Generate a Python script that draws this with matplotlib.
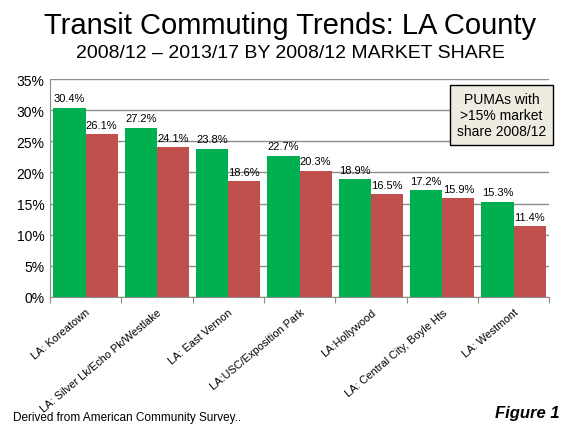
import matplotlib
matplotlib.use("Agg")
import matplotlib.pyplot as plt
import numpy as np
from matplotlib.ticker import MultipleLocator, FuncFormatter

plt.rcParams['font.family'] = ['Liberation Sans', 'DejaVu Sans']

categories = ["LA: Koreatown", "LA: Silver Lk/Echo Pk/Westlake", "LA: East Vernon",
              "LA:USC/Exposition Park", "LA:Hollywood", "LA: Central City, Boyle Hts",
              "LA: Westmont"]
share_2008_12 = [30.4, 27.2, 23.8, 22.7, 18.9, 17.2, 15.3]
share_2013_17 = [26.1, 24.1, 18.6, 20.3, 16.5, 15.9, 11.4]

green = "#00B050"
red = "#C0504D"

fig = plt.figure(figsize=(5.8, 4.35), dpi=100)
ax = fig.add_axes([0.086, 0.315, 0.861, 0.501])

x = np.arange(len(categories))
w = 0.45
ax.bar(x - w/2, share_2008_12, width=w, color=green, zorder=3)
ax.bar(x + w/2, share_2013_17, width=w, color=red, zorder=3)

for xi, v in zip(x - w/2, share_2008_12):
    ax.text(xi, v + 0.7, f"{v:.1f}%", ha="center", va="bottom", fontsize=8, zorder=4)
for xi, v in zip(x + w/2, share_2013_17):
    ax.text(xi, v + 0.7, f"{v:.1f}%", ha="center", va="bottom", fontsize=8, zorder=4)

ax.set_xlim(-0.5, len(categories) - 0.5)
ax.set_ylim(0, 35)
ax.yaxis.set_major_locator(MultipleLocator(5))
ax.yaxis.set_major_formatter(FuncFormatter(lambda v, p: f"{v:.0f}%"))
ax.grid(axis="y", color="#8c8c8c", linewidth=1, zorder=0)
ax.tick_params(axis="y", length=0, labelsize=10, pad=4)

ax.set_xticks(np.arange(len(categories) + 1) - 0.5, minor=False)
ax.set_xticklabels([])
ax.tick_params(axis="x", which="major", length=4, color="#8c8c8c", direction="out")
ax.set_xticks(x, minor=True)
ax.set_xticklabels(categories, minor=True, rotation=40, ha="right", va="top",
                   rotation_mode="anchor", fontsize=7.9)
ax.tick_params(axis="x", which="minor", length=0, pad=7)

for s in ["top", "right"]:
    ax.spines[s].set_visible(False)
for s in ["left", "bottom"]:
    ax.spines[s].set_color("#8c8c8c")

fig.text(0.5, 0.94, "Transit Commuting Trends: LA County", ha="center", va="center", fontsize=21)
fig.text(0.5, 0.877, "2008/12 \u2013 2013/17 BY 2008/12 MARKET SHARE", ha="center", va="center", fontsize=14)

ax.text(0.904, 0.835, "PUMAs with\n>15% market\nshare 2008/12", transform=ax.transAxes,
        ha="center", va="center", fontsize=10, linespacing=1.2, zorder=5,
        bbox=dict(boxstyle="square,pad=0.5", facecolor="#EEECE1", edgecolor="black", linewidth=1))

fig.text(0.022, 0.04, "Derived from American Community Survey..", ha="left", va="center", fontsize=8.5)
fig.text(0.965, 0.05, "Figure 1", ha="right", va="center", fontsize=12, fontweight="bold", fontstyle="italic")

fig.savefig("out.png", dpi=100)
